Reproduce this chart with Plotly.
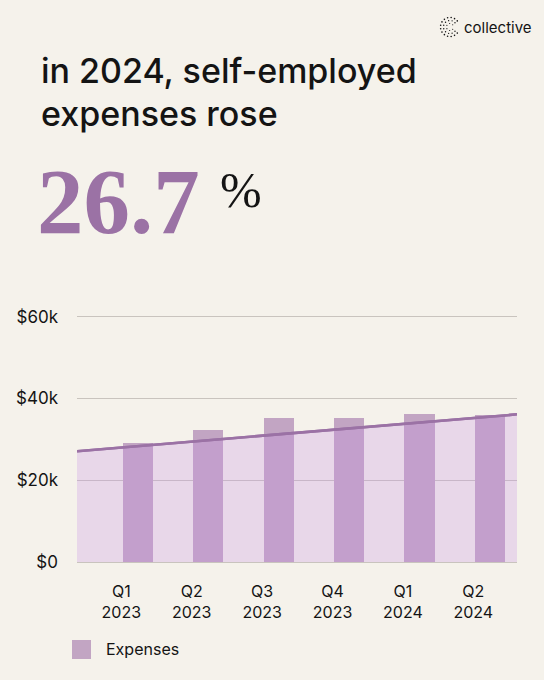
import math
import plotly.graph_objects as go

# data
quarters = ["Q1<br>2023", "Q2<br>2023", "Q3<br>2023", "Q4<br>2023", "Q1<br>2024", "Q2<br>2024"]
expenses = [29100, 32300, 35100, 35100, 36100, 36000]
trend_values = [27100, 36100]  # trend line at the left and right edge of the plot
y_ticks = [0, 20000, 40000, 60000]
y_tick_labels = ["$0", "$20k", "$40k", "$60k"]
headline_pct = "26.7"
series_name = "Expenses"

W, H = 544, 680
L, R, T, B = 77, 27, 315, 118
X_RANGE = [-0.63, 5.62]
Y_RANGE = [0, 60400]

BG = "#F5F2EB"
PURPLE = "#9B72A5"
BAR = "#C2A5C3"
GRID = "#C9C4BE"
INK = "#141414"
SANS = "Inter, 'Noto Sans', sans-serif"
SERIF = "'Liberation Serif', 'DejaVu Serif', serif"


def px(x):
    return (x - L) / (W - L - R)


def py(y):
    return (H - B - y) / (H - T - B)


idx = list(range(len(quarters)))

fig = go.Figure()

# trend line with the light area under it
fig.add_trace(go.Scatter(
    x=X_RANGE,
    y=trend_values,
    mode="lines",
    line=dict(color=PURPLE, width=2.5),
    fill="tozeroy",
    fillcolor="rgba(200,145,230,0.27)",
    showlegend=False,
    hoverinfo="skip",
))

fig.add_trace(go.Bar(
    x=idx,
    y=expenses,
    offset=0.02,
    width=0.43,
    marker=dict(color=BAR, line=dict(width=0)),
    name=series_name,
    showlegend=False,
))

# keep the line on top of the bars
fig.add_trace(go.Scatter(
    x=X_RANGE,
    y=trend_values,
    mode="lines",
    line=dict(color=PURPLE, width=2.5),
    showlegend=False,
    hoverinfo="skip",
))

annotations = [
    dict(text="in 2024, self-employed", x=px(39), y=py(70), xanchor="left", yanchor="middle",
         font=dict(family=SANS, size=34, color=INK, weight=500)),
    dict(text="expenses rose", x=px(39), y=py(113), xanchor="left", yanchor="middle",
         font=dict(family=SANS, size=34, color=INK, weight=500)),
    dict(text="<b>" + headline_pct + "</b>", x=px(35), y=py(201), xanchor="left", yanchor="middle",
         font=dict(family=SERIF, size=93, color=PURPLE)),
    dict(text="%", x=px(218), y=py(190), xanchor="left", yanchor="middle",
         font=dict(family=SERIF, size=50, color=INK)),
    dict(text="collective", x=px(462), y=py(27), xanchor="left", yanchor="middle",
         font=dict(family=SANS, size=15, color=INK)),
    # legend
    dict(text=series_name, x=px(104), y=py(649), xanchor="left", yanchor="middle",
         font=dict(family=SANS, size=16, color=INK)),
]
for a in annotations:
    a.update(xref="paper", yref="paper", showarrow=False)

shapes = [
    dict(type="rect", xref="paper", yref="paper",
         x0=px(72), x1=px(91), y0=py(659), y1=py(640),
         fillcolor=BAR, line=dict(width=0)),
]

# dotted "C" logo mark
cx, cy = 450, 27
for ring, n, r_dot in [(3.5, 6, 0.6), (6.5, 10, 0.7), (9.5, 14, 0.8)]:
    for k in range(n):
        ang = math.radians(40 + k * 280 / (n - 1))
        dx, dy = cx + ring * math.cos(ang), cy - ring * math.sin(ang)
        shapes.append(dict(
            type="circle", xref="paper", yref="paper",
            x0=px(dx - r_dot), x1=px(dx + r_dot), y0=py(dy + r_dot), y1=py(dy - r_dot),
            fillcolor=INK, line=dict(width=0),
        ))

fig.update_layout(
    width=W,
    height=H,
    margin=dict(l=L, r=R, t=T, b=B),
    paper_bgcolor=BG,
    plot_bgcolor=BG,
    bargap=0,
    showlegend=False,
    annotations=annotations,
    shapes=shapes,
    xaxis=dict(
        range=X_RANGE,
        tickvals=idx,
        ticktext=quarters,
        showgrid=False,
        zeroline=False,
        showline=False,
        ticks="",
        ticklabelstandoff=18,
        tickfont=dict(family=SANS, size=16, color=INK),
        fixedrange=True,
    ),
    yaxis=dict(
        range=Y_RANGE,
        tickvals=y_ticks,
        ticktext=y_tick_labels,
        showgrid=True,
        gridcolor=GRID,
        gridwidth=1.2,
        zeroline=True,
        zerolinecolor=GRID,
        zerolinewidth=1.2,
        showline=False,
        ticks="",
        ticklabelstandoff=18,
        tickfont=dict(family=SANS, size=17, color=INK),
        fixedrange=True,
    ),
)

# drop the browser's default page margin so the figure fills the window
fig.write_html(
    "out.html",
    config={"displayModeBar": False},
    post_script="document.body.style.margin='0';document.body.style.background='%s';" % BG,
)
